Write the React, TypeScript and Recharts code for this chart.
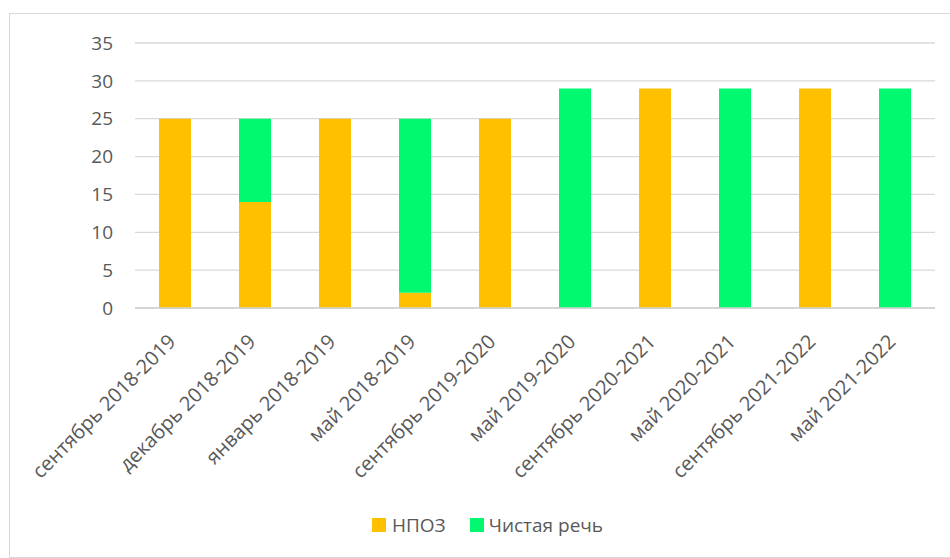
import React from 'react';
import { BarChart, Bar, XAxis, YAxis, CartesianGrid, Legend } from 'recharts';

const categories = [
  'сентябрь 2018-2019',
  'декабрь 2018-2019',
  'январь 2018-2019',
  'май 2018-2019',
  'сентябрь 2019-2020',
  'май 2019-2020',
  'сентябрь 2020-2021',
  'май 2020-2021',
  'сентябрь 2021-2022',
  'май 2021-2022',
];
const npozValues = [25, 14, 25, 2, 25, 0, 29, 0, 29, 0];
const speechValues = [0, 11, 0, 23, 0, 29, 0, 29, 0, 29];
const yTicks = [0, 5, 10, 15, 20, 25, 30, 35];

const ORANGE = '#FFC000';
const GREEN = '#00F96E';
const TEXT = '#595959';
const FONT = '"Open Sans", sans-serif';

const data = categories.map((name, i) => ({
  name,
  npoz: npozValues[i],
  speech: speechValues[i],
}));

const XTick = ({ x, y, payload }: any) => (
  <g transform={`translate(${x - 3},${y + 22})`}>
    <text
      transform="rotate(-45)"
      textAnchor="end"
      dy="0.35em"
      fill={TEXT}
      fontSize={20}
      fontFamily={FONT}
    >
      {payload.value}
    </text>
  </g>
);

const LegendContent = () => (
  <div style={{ display: 'flex', alignItems: 'center', fontFamily: FONT, fontSize: 19, color: TEXT }}>
    <span style={{ width: 14, height: 14, background: ORANGE, display: 'inline-block', marginRight: 6 }} />
    <span style={{ marginRight: 24 }}>НПОЗ</span>
    <span style={{ width: 14, height: 14, background: GREEN, display: 'inline-block', marginRight: 5 }} />
    <span>Чистая речь</span>
  </div>
);

export default function App() {
  return (
    <div style={{ position: 'absolute', left: 0, top: 0, width: 950, height: 558, overflow: 'hidden', background: '#fff' }}>
      <div
        style={{
          position: 'absolute',
          left: 9,
          top: 13,
          width: 945,
          height: 545,
          border: '1px solid #d9d9d9',
          boxSizing: 'border-box',
        }}
      />
      <div style={{ position: 'absolute', left: 0, top: 0 }}>
        <BarChart
          width={950}
          height={558}
          data={data}
          margin={{ top: 43, right: 15, bottom: 0, left: 75 }}
          barSize={32}
        >
          <CartesianGrid horizontal vertical={false} stroke="#d9d9d9" strokeWidth={1.3} />
          <XAxis
            dataKey="name"
            interval={0}
            tickLine={false}
            axisLine={{ stroke: '#d0d0d0', strokeWidth: 1.5 }}
            tick={<XTick />}
            height={222}
          />
          <YAxis
            domain={[0, 35]}
            ticks={yTicks}
            width={60}
            axisLine={false}
            tickLine={false}
            tickSize={0}
            tickMargin={22}
            tick={{ fill: TEXT, fontSize: 19, fontFamily: FONT }}
          />
          <Legend
            content={<LegendContent />}
            wrapperStyle={{ position: 'absolute', left: 372, top: 512, width: 300, height: 28 }}
          />
          <Bar dataKey="npoz" name="НПОЗ" stackId="a" fill={ORANGE} isAnimationActive={false} />
          <Bar dataKey="speech" name="Чистая речь" stackId="a" fill={GREEN} isAnimationActive={false} />
        </BarChart>
      </div>
    </div>
  );
}
